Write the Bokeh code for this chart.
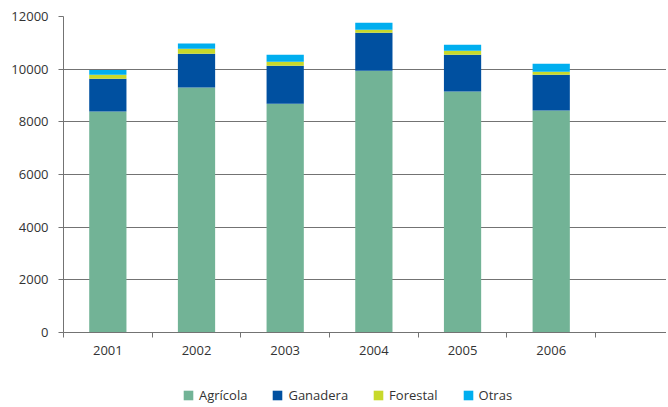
from bokeh.plotting import figure
from bokeh.layouts import column
from bokeh.models import FixedTicker, Legend, LegendItem, Range1d, ColumnDataSource
from bokeh.embed import file_html
from bokeh.resources import INLINE

years = ["2001", "2002", "2003", "2004", "2005", "2006"]
agricola = [8390, 9300, 8690, 9940, 9150, 8430]
ganadera = [1250, 1290, 1440, 1440, 1400, 1360]
forestal = [150, 190, 150, 115, 150, 115]
otras = [180, 190, 265, 265, 230, 300]
series = ["Agrícola", "Ganadera", "Forestal", "Otras"]
colors = ["#72b396", "#0050a0", "#c8d92b", "#00aeef"]
y_ticks = [0, 2000, 4000, 6000, 8000, 10000, 12000]

xs = [i + 0.5 for i in range(len(years))]
src = ColumnDataSource(dict(x=xs, Agr=agricola, Gan=ganadera, For=forestal, Otr=otras))

FONT = "Open Sans"
TXT = "#333333"
GRID = "#737373"

p = figure(width=666, height=372, output_backend="svg", toolbar_location=None,
           x_range=Range1d(0, 6.80), y_range=Range1d(0, 12000),
           min_border_left=63, min_border_right=0, min_border_top=16, min_border_bottom=40)
p.outline_line_color = None
p.background_fill_color = "white"

rs = p.vbar_stack(["Agr", "Gan", "For", "Otr"], x="x", width=0.42, source=src,
                  color=colors, line_color=None)

# y axis
p.yaxis.ticker = FixedTicker(ticks=y_ticks)
p.yaxis.major_tick_out = 5
p.yaxis.major_tick_in = 0
p.yaxis.minor_tick_out = 0
p.yaxis.minor_tick_in = 0
p.yaxis.major_label_standoff = 10
p.yaxis.axis_line_color = GRID
p.yaxis.major_tick_line_color = GRID
p.yaxis.major_label_text_font = FONT
p.yaxis.major_label_text_font_size = "13px"
p.yaxis.major_label_text_color = TXT

# x axis
p.xaxis.ticker = FixedTicker(ticks=xs, minor_ticks=list(range(len(years) + 1)))
p.xaxis.major_label_overrides = {x: y for x, y in zip(xs, years)}
p.xaxis.major_tick_out = 0
p.xaxis.major_tick_in = 0
p.xaxis.minor_tick_out = 5
p.xaxis.minor_tick_in = 0
p.xaxis.minor_tick_line_color = GRID
p.xaxis.axis_line_color = GRID
p.xaxis.major_label_standoff = 8
p.xaxis.major_label_text_font = FONT
p.xaxis.major_label_text_font_size = "13px"
p.xaxis.major_label_text_color = TXT

p.xgrid.grid_line_color = None
p.ygrid.ticker = FixedTicker(ticks=y_ticks)
p.ygrid.grid_line_color = GRID
p.ygrid.grid_line_width = 1

# legend strip below the chart (zero-height proxy bars only supply legend swatches)
p2 = figure(width=666, height=33, output_backend="svg", toolbar_location=None,
            x_range=Range1d(0, 1), y_range=Range1d(0, 1),
            min_border_left=63, min_border_right=0, min_border_top=0, min_border_bottom=0)
p2.axis.visible = False
p2.grid.visible = False
p2.outline_line_color = None
proxy = ColumnDataSource(dict(x=[0], top=[0]))
lr = [p2.vbar(x="x", top="top", width=0.1, source=proxy, color=c, line_color=None)
      for c in colors]
items = [LegendItem(label=s, renderers=[r]) for s, r in zip(series, lr)]
legend = Legend(items=items, orientation="horizontal", location=(119, 1),
                glyph_width=12, glyph_height=12, label_height=12, label_standoff=5,
                spacing=24, padding=0, margin=0, border_line_color=None,
                background_fill_alpha=0, label_text_font=FONT,
                label_text_font_size="13px", label_text_color=TXT)
p2.add_layout(legend, "center")

open("out.html", "w").write(file_html(column(p, p2, spacing=0), INLINE))
